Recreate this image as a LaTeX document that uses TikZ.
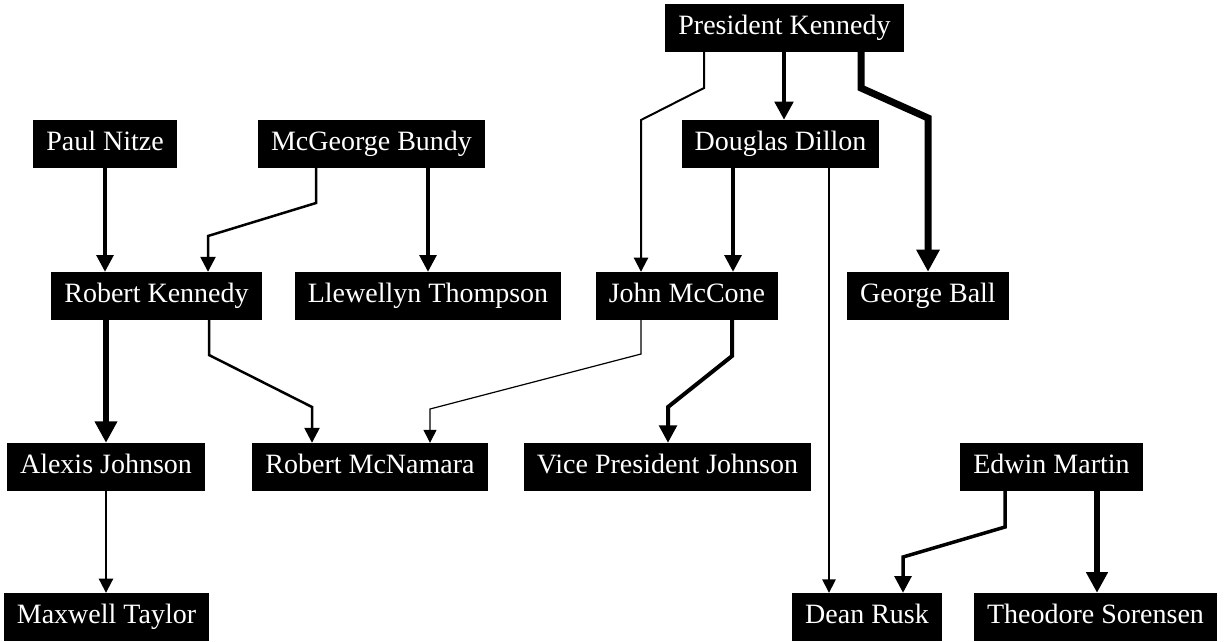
\documentclass[tikz,border=0pt]{standalone}
\usepackage{fontspec}
\setmainfont{Liberation Serif}
\usepackage{tikz}
\usetikzlibrary{arrows.meta}

\tikzset{
  person/.style={fill=black, text=white, inner xsep=13pt, inner ysep=0pt,
    minimum height=48pt, text height=19pt, text depth=6pt,
    font=\fontsize{28}{32}\selectfont},
  tie/.style={draw=black, line width=#1, line join=miter,
    -{Triangle[length=11pt 1.6, width=11pt 1.6]}}
}

\begin{document}
\begin{tikzpicture}[x=1pt,y=-1pt]
  \useasboundingbox (0,0) rectangle (1225,641);
  % people
  \node[person] (pk) at (784.5,27.5) {President Kennedy};
  \node[person] (nitze) at (105,144) {Paul Nitze};
  \node[person] (bundy) at (371.5,144) {McGeorge Bundy};
  \node[person] (dillon) at (780.5,144) {Douglas Dillon};
  \node[person] (rk) at (156.5,296) {Robert Kennedy};
  \node[person] (thompson) at (428,296) {Llewellyn Thompson};
  \node[person] (mccone) at (687,296) {John McCone};
  \node[person] (ball) at (928,296) {George Ball};
  \node[person] (alexis) at (106,467) {Alexis Johnson};
  \node[person] (mcnamara) at (370,467) {Robert McNamara};
  \node[person] (vpj) at (667.5,467) {Vice President Johnson};
  \node[person] (martin) at (1051.5,467) {Edwin Martin};
  \node[person] (taylor) at (106.5,617) {Maxwell Taylor};
  \node[person] (rusk) at (867,617) {Dean Rusk};
  \node[person] (sorensen) at (1095.5,617) {Theodore Sorensen};
  % links
  \draw[tie=2pt] (pk.south -| 704,0) -- (704,88) -- (641,120) -- (mccone.north -| 641,0);
  \draw[tie=4.5pt] (pk.south -| 784,0) -- (dillon.north -| 784,0);
  \draw[tie=7pt] (pk.south -| 861,0) -- (861,88) -- (928,118) -- (ball.north -| 928,0);
  \draw[tie=3.5pt] (nitze.south) -- (rk.north -| nitze.south);
  \draw[tie=2.5pt] (bundy.south -| 316,0) -- (316,203) -- (208,236) -- (rk.north -| 208,0);
  \draw[tie=3.5pt] (bundy.south -| 428,0) -- (thompson.north -| 428,0);
  \draw[tie=3.5pt] (dillon.south -| 733,0) -- (mccone.north -| 733,0);
  \draw[tie=1.5pt] (dillon.south -| 829,0) -- (rusk.north -| 829,0);
  \draw[tie=6.5pt] (rk.south -| 106,0) -- (alexis.north -| 106,0);
  \draw[tie=2.5pt] (rk.south -| 209,0) -- (209,355) -- (312,407) -- (mcnamara.north -| 312,0);
  \draw[tie=1.2pt] (mccone.south -| 641,0) -- (641,354) -- (430,409) -- (mcnamara.north -| 430,0);
  \draw[tie=4pt] (mccone.south -| 732,0) -- (732,356) -- (668,407) -- (vpj.north -| 668,0);
  \draw[tie=2pt] (alexis.south) -- (taylor.north -| alexis.south);
  \draw[tie=3.5pt] (martin.south -| 1005,0) -- (1005,527) -- (903,557) -- (rusk.north -| 903,0);
  \draw[tie=6pt] (martin.south -| 1097,0) -- (sorensen.north -| 1097,0);
\end{tikzpicture}
\end{document}
